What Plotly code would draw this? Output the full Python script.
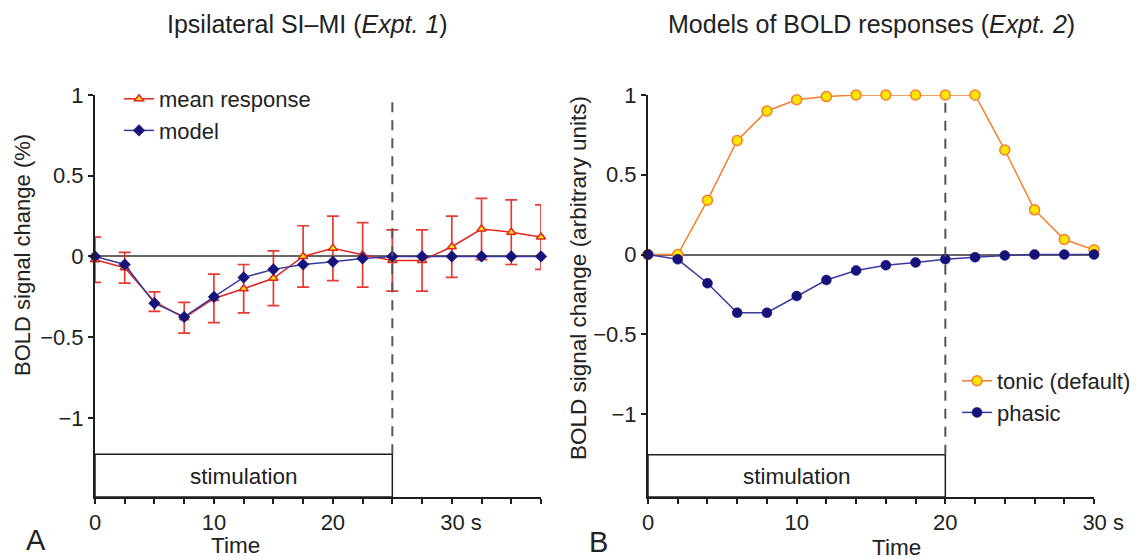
import plotly.graph_objects as go

# ---------------- data ----------------
# Panel A (Expt. 1)
time_a = [0, 2.5, 5, 7.5, 10, 12.5, 15, 17.5, 20, 22.5, 25, 27.5, 30, 32.5, 35, 37.5]
mean_response = [-0.02, -0.07, -0.28, -0.38, -0.26, -0.20, -0.135, 0.0, 0.05, 0.01,
                 -0.025, -0.025, 0.06, 0.17, 0.15, 0.12]
mean_err = [0.14, 0.095, 0.06, 0.095, 0.15, 0.15, 0.17, 0.19, 0.2, 0.2,
            0.19, 0.19, 0.19, 0.19, 0.2, 0.2]
model_a = [0.0, -0.05, -0.29, -0.375, -0.25, -0.13, -0.08, -0.05, -0.033, -0.012,
           0.0, 0.0, 0.0, 0.0, 0.0, 0.0]

# Panel B (Expt. 2)
time_b = [0, 2, 4, 6, 8, 10, 12, 14, 16, 18, 20, 22, 24, 26, 28, 30]
tonic = [0.0, 0.0, 0.34, 0.715, 0.90, 0.97, 0.99, 1.0, 1.0, 1.0, 1.0, 1.0,
         0.655, 0.28, 0.094, 0.03]
phasic = [0.0, -0.03, -0.18, -0.365, -0.365, -0.26, -0.16, -0.10, -0.067, -0.05,
          -0.03, -0.017, -0.006, 0.0, 0.0, 0.0]

# ticks
ytick_vals = [-1, -0.5, 0, 0.5, 1]
ytick_text = ["\u22121", "\u22120.5", "0", "0.5", "1"]
xtick_a = [0, 2.5, 5, 7.5, 10, 12.5, 15, 17.5, 20, 22.5, 25, 27.5, 30, 32.5, 35, 37.5]
xtick_a_text = ["0", "", "", "", "10", "", "", "", "20", "", "", "", "\u00a0\u00a0\u00a030 s", "", "", ""]
xtick_b = [0, 2, 4, 6, 8, 10, 12, 14, 16, 18, 20, 22, 24, 26, 28, 30]
xtick_b_text = ["0", "", "", "", "", "10", "", "", "", "", "20", "", "", "", "", "\u00a0\u00a0\u00a030 s"]

stim_end_a = 25
stim_end_b = 20

# ---------------- figure ----------------
OFF = 8                      # page body margin
W, H = 1148 - OFF, 559 - OFF
FONT = "Liberation Sans, Arial, sans-serif"
TXT = "#222222"

def px(x):
    return (x - OFF) / W

def py(y):
    return 1 - (y - OFF) / H

RED = "#e3261f"
NAVY = "#15137a"
NAVY_LINE = "#3b3a9c"
ORANGE = "#f57f2c"
YELLOW = "#ffe600"

fig = go.Figure()

fig.add_trace(go.Scatter(
    x=time_a, y=mean_response, name="mean response", mode="lines+markers",
    line=dict(color=RED, width=1.5),
    marker=dict(symbol="triangle-up", size=8, color=YELLOW, line=dict(color=RED, width=1.5)),
    error_y=dict(type="data", array=mean_err, visible=True, color="rgba(227,38,31,0.9)",
                 thickness=1.7, width=6),
    xaxis="x", yaxis="y", legend="legend", legendgroup="a1", cliponaxis=False))
fig.add_trace(go.Scatter(
    x=time_a, y=model_a, name="model", mode="lines+markers",
    line=dict(color=NAVY_LINE, width=1.5),
    marker=dict(symbol="diamond", size=9, color=NAVY, line=dict(color=NAVY, width=0.5)),
    xaxis="x", yaxis="y", legend="legend", legendgroup="a2", cliponaxis=False))

fig.add_trace(go.Scatter(
    x=time_b, y=tonic, name="tonic (default)", mode="lines+markers",
    line=dict(color=ORANGE, width=1.5),
    marker=dict(symbol="circle", size=10, color=YELLOW, line=dict(color=ORANGE, width=1.5)),
    xaxis="x2", yaxis="y2", legend="legend2", legendgroup="b1", cliponaxis=False))
fig.add_trace(go.Scatter(
    x=time_b, y=phasic, name="phasic", mode="lines+markers",
    line=dict(color=NAVY_LINE, width=1.5),
    marker=dict(symbol="circle", size=10, color=NAVY, line=dict(color=NAVY, width=0.5)),
    xaxis="x2", yaxis="y2", legend="legend2", legendgroup="b2", cliponaxis=False))

ydom = [py(497), py(95)]
ax_common = dict(showgrid=False, showline=True, linecolor="#1e1e1e", linewidth=2,
                 ticks="outside", ticklen=5, tickwidth=1.5, tickcolor="#1e1e1e",
                 tickfont=dict(family=FONT, size=22, color=TXT), automargin=False)

fig.update_layout(
    template="none",
    width=W, height=H, autosize=False,
    margin=dict(l=0, r=0, t=0, b=0, pad=0, autoexpand=False),
    paper_bgcolor="white", plot_bgcolor="white",
    font=dict(family=FONT, size=22, color=TXT),
    xaxis=dict(domain=[px(95), px(541)], range=[0, 37.5], anchor="y", zeroline=False,
               tickmode="array", tickvals=xtick_a, ticktext=xtick_a_text, **ax_common),
    yaxis=dict(domain=ydom, range=[-1.49, 1], anchor="x",
               tickmode="array", tickvals=ytick_vals, ticktext=ytick_text, **ax_common,
               zeroline=True, zerolinecolor="#666666", zerolinewidth=2.2),
    xaxis2=dict(domain=[px(648), px(1094)], range=[0, 30], anchor="y2", zeroline=False,
                tickmode="array", tickvals=xtick_b, ticktext=xtick_b_text, **ax_common),
    yaxis2=dict(domain=ydom, range=[-1.52, 1], anchor="x2",
                tickmode="array", tickvals=ytick_vals, ticktext=ytick_text, **ax_common,
                zeroline=True, zerolinecolor="#666666", zerolinewidth=2.2),
    legend=dict(x=px(119), y=py(78), xanchor="left", yanchor="top",
                bgcolor="rgba(0,0,0,0)", font=dict(family=FONT, size=22, color=TXT),
                tracegroupgap=0, itemwidth=30),
    legend2=dict(x=px(957), y=py(360), xanchor="left", yanchor="top",
                 bgcolor="rgba(0,0,0,0)", font=dict(family=FONT, size=22, color=TXT),
                 tracegroupgap=0, itemwidth=30),
    showlegend=True,
)

# stimulation boxes and dashed lines
fig.add_shape(type="rect", xref="x", yref="y", x0=0, x1=stim_end_a, y0=-1.49, y1=-1.225,
              line=dict(color="#1e1e1e", width=1.5), fillcolor="rgba(0,0,0,0)")
fig.add_shape(type="line", xref="x", yref="y", x0=stim_end_a, x1=stim_end_a, y0=-1.225, y1=1,
              line=dict(color="#555555", width=2, dash="10px,8px"))
fig.add_shape(type="rect", xref="x2", yref="y2", x0=0, x1=stim_end_b, y0=-1.52, y1=-1.255,
              line=dict(color="#1e1e1e", width=1.5), fillcolor="rgba(0,0,0,0)")
fig.add_shape(type="line", xref="x2", yref="y2", x0=stim_end_b, x1=stim_end_b, y0=-1.255, y1=1,
              line=dict(color="#555555", width=2, dash="10px,8px"))

fig.add_annotation(xref="x", yref="y", x=stim_end_a / 2, y=-1.36, text="stimulation",
                   showarrow=False, font=dict(family=FONT, size=22.5, color=TXT))
fig.add_annotation(xref="x2", yref="y2", x=stim_end_b / 2, y=-1.39, text="stimulation",
                   showarrow=False, font=dict(family=FONT, size=22.5, color=TXT))

def ann(x, y, text, size=22, angle=0):
    fig.add_annotation(xref="paper", yref="paper", x=px(x), y=py(y), text=text,
                       showarrow=False, textangle=angle, xanchor="center", yanchor="middle",
                       font=dict(family=FONT, size=size, color=TXT))

ann(307, 24, "Ipsilateral SI\u2013MI (<i>Expt. 1</i>)", size=25)
ann(871, 24, "Models of BOLD responses (<i>Expt. 2</i>)", size=25)
ann(22, 255, "BOLD signal change (%)", size=22, angle=-90)
ann(578, 278, "BOLD signal change (arbitrary units)", size=22.5, angle=-90)
ann(235, 545, "Time", size=22.5)
ann(896, 547, "Time", size=22.5)
ann(36, 540, "A", size=29)
ann(598, 542, "B", size=29)

fig.write_html("out.html")
